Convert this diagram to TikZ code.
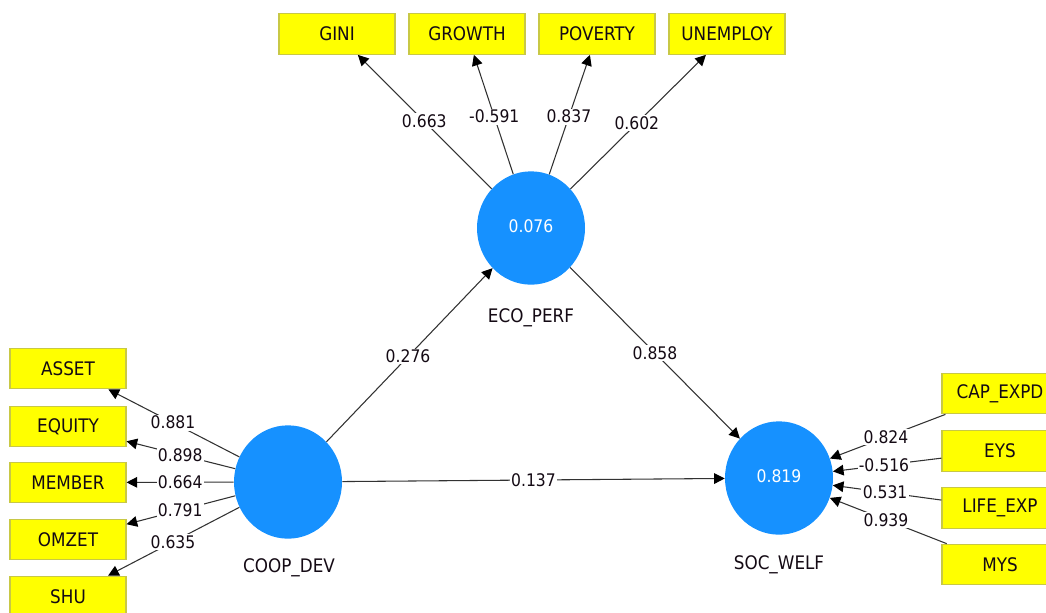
\documentclass[tikz,border=0pt]{standalone}
\usepackage{fontspec}
\setmainfont{DejaVu Sans Condensed}
\usetikzlibrary{shapes.geometric,arrows.meta,calc}
\definecolor{lvblue}{RGB}{22,145,255}
\definecolor{indyel}{RGB}{255,255,0}
\definecolor{indborder}{RGB}{200,200,70}
\definecolor{linecol}{RGB}{50,50,50}
\definecolor{txtcol}{RGB}{20,10,20}
\begin{document}
\begin{tikzpicture}[x=0.75pt,y=-0.75pt,
  latent/.style={ellipse,fill=lvblue,draw=none,minimum width=81pt,minimum height=85pt,inner sep=0pt,text=white,font=\fontsize{13}{15}\selectfont},
  indbox/.style={rectangle,fill=indyel,draw=indborder,line width=0.8pt,minimum width=87pt,minimum height=30.5pt,inner sep=0pt,text=txtcol,font=\fontsize{14}{16}\selectfont},
  lvname/.style={text=txtcol,font=\fontsize{14}{16}\selectfont},
  coef/.style={fill=white,inner sep=1pt,text=txtcol,font=\fontsize{13}{15}\selectfont},
  conn/.style={draw=linecol,line width=0.8pt,-{Triangle[length=8pt,width=8pt,color=black]}}]
\useasboundingbox (0,0) rectangle (1046,612);
\clip (0,0) rectangle (1046,612);
% latent variables
\node[latent] (eco) at (531,228) {\raisebox{3pt}{0.076}};
\node[latent] (coop) at (288,482) {};
\node[latent] (soc) at (779,478) {\raisebox{3pt}{0.819}};
\node[lvname] (econame) at (531,318) {ECO\_PERF};
\node[lvname] (coopname) at (289,568) {COOP\_DEV};
\node[lvname] (socname) at (779,565) {SOC\_WELF};
% top indicators
\node[indbox] (gini) at (337,34) {GINI};
\node[indbox] (growth) at (467,34) {GROWTH};
\node[indbox] (poverty) at (597,34) {POVERTY};
\node[indbox] (unemploy) at (727,34) {UNEMPLOY};
% left indicators
\node[indbox] (asset) at (68,368.5) {ASSET};
\node[indbox] (equity) at (68,426.5) {EQUITY};
\node[indbox] (member) at (68,482.5) {MEMBER};
\node[indbox] (omzet) at (68,539.5) {OMZET};
\node[indbox] (shu) at (68,596.5) {SHU};
% right indicators
\node[indbox] (capexpd) at (1000,393.5) {CAP\_EXPD};
\node[indbox] (eys) at (1000,451) {EYS};
\node[indbox] (lifeexp) at (1000,508) {LIFE\_EXP};
\node[indbox] (mys) at (1000,564.5) {MYS};
% outer loadings ECO_PERF
\draw[conn] (eco) -- (gini);
\draw[conn] (eco) -- (growth);
\draw[conn] (eco) -- (poverty);
\draw[conn] (eco) -- (unemploy);
% outer loadings COOP_DEV
\draw[conn] (coop) -- (asset);
\draw[conn] (coop) -- (equity);
\draw[conn] (coop) -- (member);
\draw[conn] (coop) -- (omzet);
\draw[conn] (coop) -- (shu);
% outer weights SOC_WELF
\draw[conn] (capexpd) -- (soc);
\draw[conn] (eys) -- (soc);
\draw[conn] (lifeexp) -- (soc);
\draw[conn] (mys) -- (soc);
% structural paths
\draw[conn] (coop) -- (eco);
\draw[conn] (eco) -- (soc);
\draw[conn] (coop) -- (soc);
% coefficient labels
\node[coef] (lgini) at ($(eco.center)!0.55!(gini.center)$) {0.663};
\node[coef] (lgrowth) at ($(eco.center)!0.574!(growth.center)$) {-0.591};
\node[coef] (lpoverty) at ($(eco.center)!0.574!(poverty.center)$) {0.837};
\node[coef] (lunemploy) at ($(eco.center)!0.54!(unemploy.center)$) {0.602};
\node[coef] (lasset) at ($(coop.center)!0.523!(asset.center)$) {0.881};
\node[coef] (lequity) at ($(coop.center)!0.49!(equity.center)$) {0.898};
\node[coef] (lmember) at ($(coop.center)!0.49!(member.center)$) {0.664};
\node[coef] (lomzet) at ($(coop.center)!0.49!(omzet.center)$) {0.791};
\node[coef] (lshu) at ($(coop.center)!0.523!(shu.center)$) {0.635};
\node[coef] (lcap) at ($(soc.center)!0.484!(capexpd.center)$) {0.824};
\node[coef] (leys) at ($(soc.center)!0.475!(eys.center)$) {-0.516};
\node[coef] (llife) at ($(soc.center)!0.48!(lifeexp.center)$) {0.531};
\node[coef] (lmys) at ($(soc.center)!0.484!(mys.center)$) {0.939};
\node[coef] (lce) at ($(coop.center)!0.494!(eco.center)$) {0.276};
\node[coef] (les) at ($(eco.center)!0.5!(soc.center)$) {0.858};
\node[coef] (lcs) at ($(coop.center)!0.5!(soc.center)$) {0.137};
\end{tikzpicture}
\end{document}
